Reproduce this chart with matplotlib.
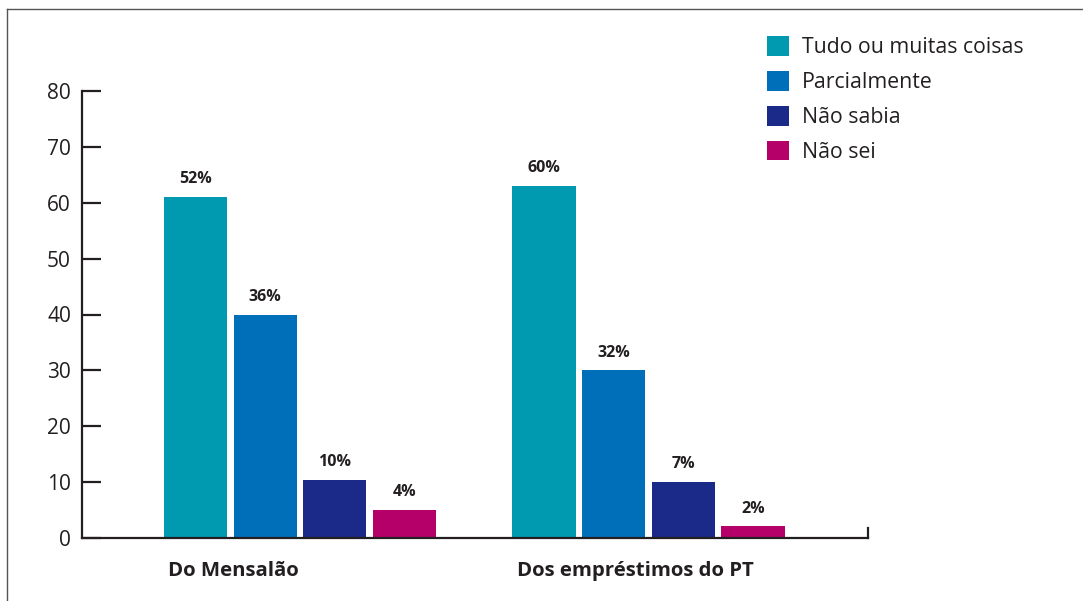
import numpy as np
import matplotlib.pyplot as plt
from matplotlib.lines import Line2D

plt.rcParams['font.family'] = ['Open Sans', 'DejaVu Sans']

# dados
grupos = ["Do Mensalão", "Dos empréstimos do PT"]
series = ["Tudo ou muitas coisas", "Parcialmente", "Não sabia", "Não sei"]
alturas = [
    [61, 63],
    [40, 30],
    [10.4, 10],
    [5, 2.1],
]
rotulos = [
    ["52%", "60%"],
    ["36%", "32%"],
    ["10%", "7%"],
    ["4%", "2%"],
]
cores = ["#009AB0", "#006FBA", "#1B2989", "#B5006A"]
y_ticks = [0, 10, 20, 30, 40, 50, 60, 70, 80]

texto = "#231f20"

fig = plt.figure(figsize=(10.83, 6.01), dpi=100)
ax = fig.add_axes([82/1083, 1 - 538/601, (868 - 82)/1083, (538 - 91)/601])

x = np.arange(len(grupos))
largura = 0.181
passo = 0.2
for i, (nome, h, rot, cor) in enumerate(zip(series, alturas, rotulos, cores)):
    pos = x + (i - 1.5) * passo
    barras = ax.bar(pos, h, width=largura, color=cor, label=nome, zorder=2)
    for b, r in zip(barras, rot):
        ax.annotate(r, (b.get_x() + b.get_width()/2, b.get_height()),
                    xytext=(0, 7), textcoords='offset points',
                    ha='center', va='bottom', fontsize=11.5,
                    fontweight='bold', color=texto)

ax.set_xlim(-0.626, 1.630)
ax.set_ylim(0, 80)
ax.set_yticks(y_ticks)
ax.set_xticks([])
ax.tick_params(axis='y', direction='in', length=14, width=1.6,
               labelsize=15, colors=texto, pad=8)

ax.spines['top'].set_visible(False)
ax.spines['right'].set_bounds(0, 1.8)
for s in ['left', 'bottom', 'right']:
    ax.spines[s].set_linewidth(1.6)
    ax.spines[s].set_color(texto)

# rótulos das categorias
for xi, g in zip(x, grupos):
    ax.text(xi - 1.5*passo - largura/2 + 0.012, -0.074, g,
            transform=ax.get_xaxis_transform(), ha='left', va='center',
            fontsize=14.7, fontweight='bold', color=texto)

fig.legend(loc='upper left', bbox_to_anchor=(748/1083, 1 - 17/601),
           frameon=False, fontsize=15.3, handlelength=1.05, handleheight=1.05,
           handletextpad=0.6, labelspacing=0.6, labelcolor=texto)

# moldura
fig.add_artist(Line2D([7/1083, 7/1083], [0, 1 - 9/601], color='#555555', lw=1))
fig.add_artist(Line2D([7/1083, 1], [1 - 9/601, 1 - 9/601], color='#555555', lw=1))

fig.savefig("out.png", dpi=100)
